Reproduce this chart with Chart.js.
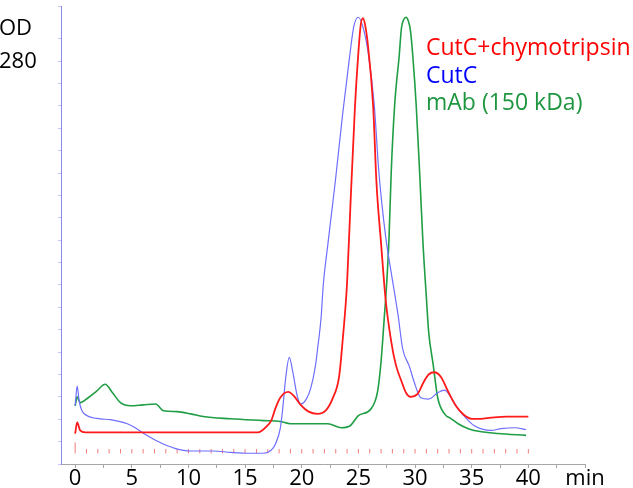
<!DOCTYPE html>
<html>
<head>
<meta charset="utf-8">
<script src="https://cdn.jsdelivr.net/npm/chart.js@4"></script>
<style>
  html, body { margin: 0; padding: 0; background: #fff; }
  #wrap { width: 633px; height: 488px; }
</style>
</head>
<body>
<div id="wrap"><canvas id="sec"></canvas></div>
<script>
// Elution time (min) and OD280 (relative, top of peaks = 100)
const redTime = [0, 0.18, 0.44, 0.9, 4, 8, 12, 16.1, 16.5, 16.9, 17.3, 17.7, 18.1, 18.8, 19.3, 19.9, 20.6, 21.4, 22.1, 22.7,
  23.3, 23.6, 24.0, 24.3, 24.7, 25.0, 25.2, 25.4, 25.6, 25.8, 26.3, 26.6, 27.0, 27.4, 27.9, 28.3, 28.8, 29.2, 29.6, 30.2,
  30.8, 31.2, 31.7, 32.3, 32.9, 33.6, 34.3, 35.0, 35.8, 36.7, 38.1, 40.0];
const redOD = [6.8, 9.3, 7.5, 7.05, 7.05, 7.05, 7.05, 7.05, 7.5, 8.4, 9.7, 12.6, 14.8, 16.1, 15.2, 13.2, 11.7, 11.2, 11.9, 14.5,
  19.6, 27.3, 40.5, 58, 80, 92, 98, 99.6, 98, 94.5, 80, 62.6, 49.3, 36.8, 27.3, 22.2, 18.5, 15.9, 15, 15.6,
  18.5, 20, 20.5, 19.4, 16.3, 13, 11, 10.1, 10.1, 10.35, 10.6, 10.6];

const blueTime = [0, 0.18, 0.35, 0.6, 1.06, 2.2, 3.1, 4.6, 5.3, 6.2, 7.5, 8.8, 10.2, 12.2, 13.7, 15.2, 16.6, 17.3, 17.7, 18.1,
  18.3, 18.6, 18.9, 19.2, 19.6, 19.9, 20.4, 20.8, 21.2, 21.4, 21.7, 21.9, 22.3, 22.7, 23.0, 23.6, 24.2, 24.6, 25.0, 25.5,
  25.9, 26.4, 26.8, 27.4, 27.9, 28.5, 28.9, 29.5, 29.9, 30.5, 31.2, 32.0, 32.6, 33.2, 33.8, 34.3, 35.2, 36.7, 37.6, 38.8, 39.8];
const blueOD = [13, 17.4, 14.1, 11.9, 10.8, 10.1, 9.9, 9.0, 8.1, 6.6, 4.8, 3.5, 2.9, 2.9, 2.6, 2.4, 2.4, 3.1, 4.6, 7.9,
  11.9, 19.6, 23.8, 20.7, 15.2, 13.4, 14.5, 17, 21.8, 25.8, 32.5, 40, 49, 57.5, 64, 78, 90.5, 97.8, 99.8, 96.7,
  91.2, 80.2, 65.4, 50.9, 42.7, 33.3, 25.8, 21.8, 18.5, 14.8, 14.5, 15.9, 16.5, 14.8, 12.3, 10.8, 8.6, 7.5, 7.9, 8.1, 7.7];

const greenTime = [0, 0.18, 0.44, 1.15, 1.9, 2.65, 3.3, 4.0, 4.9, 6.0, 7.1, 7.8, 9.0, 10.2, 11.3, 13.7, 16.6, 18.1, 19.0, 22.3,
  23.5, 24.3, 25.0, 26.1, 26.7, 27.0, 27.3, 27.5, 27.7, 27.9, 28.2, 28.6, 28.8, 29.0, 29.2, 29.4, 29.6, 29.8, 30.1, 30.4,
  30.7, 31.0, 31.2, 31.6, 32.0, 32.6, 33.2, 33.8, 34.7, 35.6, 37.3, 39.8];
const greenOD = [13, 15, 13.7, 14.8, 16.3, 17.8, 15.9, 13.7, 13, 13.2, 13.4, 11.9, 11.7, 11.2, 10.6, 10.1, 9.7, 9.5, 9.0, 9.0,
  8.1, 8.6, 10.8, 12.3, 16.3, 22.9, 33.3, 40.5, 50.4, 65.4, 80.2, 91.2, 97.4, 99.3, 99.8, 99.0, 96.7, 91.2, 80.2, 65.4,
  49.3, 37.2, 29.5, 22.2, 14.8, 11.2, 10.1, 9.0, 7.9, 7.3, 6.8, 6.4];

// Fraction markers along the bottom (injection mark at 0)
const injectTime = [0];
const fractionTime = [1, 2, 3, 4, 5, 6, 7, 8, 9, 10, 11, 12, 13, 14, 15, 16, 17, 18, 19, 20,
  21, 22, 23, 24, 25, 26, 27, 28, 29, 30, 31, 32, 33, 34, 35, 36, 37, 38, 39, 40];

const seriesNames = ['CutC+chymotripsin', 'CutC', 'mAb (150 kDa)'];
const xTickLabels = ['0', '5', '10', '15', '20', '25', '30', '35', '40', 'min'];

const FONT = '"Open Sans", Lato, sans-serif';

function toPoints(xs, ys) {
    return xs.map((x, i) => ({ x: x, y: ys[i] }));
}

function traceSet(label, xs, ys, color, width) {
    return {
        label: label,
        data: toPoints(xs, ys),
        borderColor: color,
        borderWidth: width,
        pointRadius: 0,
        fill: false,
        cubicInterpolationMode: 'monotone',
        showLine: true
    };
}

// Legend text and y-axis label drawn as plain text
const textPlugin = {
    id: 'textPlugin',
    afterDraw(chart) {
        const ctx = chart.ctx;
        ctx.save();
        ctx.textBaseline = 'alphabetic';
        ctx.textAlign = 'left';
        ctx.fillStyle = '#000';
        ctx.font = '22px ' + FONT;
        ctx.fillText('OD', -1, 35);
        ctx.fillText('280', -1, 68);
        const colors = ['#ff0000', '#0000ff', '#1e9640'];
        ctx.font = '23px ' + FONT;
        seriesNames.forEach((name, i) => {
            ctx.fillStyle = colors[i];
            ctx.fillText(name, 426, 55 + i * 27.5);
        });
        ctx.restore();
    }
};

const ctx = document.getElementById('sec').getContext('2d');
const chart = new Chart(ctx, {
    type: 'scatter',
    data: {
        datasets: [
            traceSet(seriesNames[0], redTime, redOD, '#ff1a1a', 1.8),
            traceSet(seriesNames[1], blueTime, blueOD, '#6e6eff', 1.2),
            traceSet(seriesNames[2], greenTime, greenOD, '#1f9e45', 1.6),
            {
                label: 'injection',
                data: injectTime.map(t => ({ x: t, y: 3.6 })),
                pointStyle: 'line',
                rotation: 90,
                pointRadius: 5.5,
                borderColor: 'rgba(240,90,90,0.8)',
                borderWidth: 1,
                showLine: false
            },
            {
                label: 'fractions',
                data: fractionTime.map(t => ({ x: t, y: 2.86 })),
                pointStyle: 'line',
                rotation: 90,
                pointRadius: 2.2,
                borderColor: 'rgba(240,90,90,0.8)',
                borderWidth: 1,
                showLine: false
            }
        ]
    },
    options: {
        responsive: true,
        maintainAspectRatio: false,
        animation: false,
        layout: { padding: { top: 0, right: 48, bottom: 0, left: 0 } },
        plugins: {
            legend: { display: false },
            tooltip: { enabled: false }
        },
        scales: {
            x: {
                type: 'linear',
                min: -1.25,
                max: 45,
                afterBuildTicks: scale => {
                    const t = [];
                    for (let v = 0; v <= 45; v += 2.5) t.push({ value: v });
                    scale.ticks = t;
                },
                afterFit: scale => { scale.height = 24; },
                border: { display: true, color: '#a6a6a6', width: 1 },
                grid: { drawOnChartArea: false, drawTicks: true, tickLength: 4, color: '#a6a6a6' },
                ticks: {
                    autoSkip: false,
                    maxRotation: 0,
                    padding: -2,
                    color: '#000',
                    font: { family: FONT, size: 22 },
                    callback: v => (v % 5 === 0 ? xTickLabels[v / 5] : '')
                }
            },
            y: {
                type: 'linear',
                min: 0,
                max: 102.2,
                afterFit: scale => { scale.width = 61; },
                border: { display: true, color: '#8a8af0', width: 1 },
                grid: { drawOnChartArea: false, drawTicks: true, tickLength: 3, color: '#c4c4f6' },
                ticks: { display: false, stepSize: 5 }
            }
        }
    },
    plugins: [textPlugin]
});
</script>
</body>
</html>
